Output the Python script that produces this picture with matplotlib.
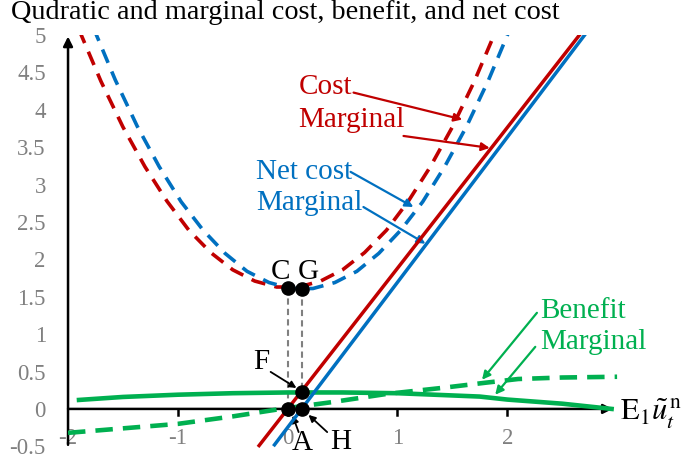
import matplotlib
matplotlib.use("Agg")
import matplotlib.pyplot as plt

plt.rcParams['font.family'] = 'Liberation Serif'
plt.rcParams['mathtext.fontset'] = 'stix'

RED = '#C00000'
BLUE = '#0070C0'
GREEN = '#00B050'
GRAY = '#808080'

# quadratic cost (dashed red)
cost_x = [-1.9, -1.7, -1.5, -1.3, -1.1, -0.9, -0.7, -0.5, -0.3, -0.1,
          0.1, 0.3, 0.5, 0.7, 0.9, 1.1, 1.3, 1.5, 1.7, 1.9]
cost_y = [5.07, 4.38, 3.77, 3.24, 2.78, 2.39, 2.09, 1.86, 1.71, 1.63,
          1.63, 1.71, 1.86, 2.09, 2.39, 2.78, 3.24, 3.77, 4.38, 5.07]
# net cost (dashed blue)
net_x = [-1.77, -1.57, -1.37, -1.17, -0.97, -0.77, -0.57, -0.37, -0.17, 0.03,
         0.23, 0.43, 0.63, 0.83, 1.03, 1.23, 1.43, 1.63, 1.83, 2.03]
net_y = [5.10, 4.40, 3.78, 3.24, 2.77, 2.39, 2.08, 1.84, 1.69, 1.61,
         1.61, 1.69, 1.84, 2.08, 2.39, 2.77, 3.24, 3.78, 4.40, 5.10]
# marginal cost / marginal net cost (solid)
mc_x = [-0.26, 2.70]
mc_y = [-0.49, 5.08]
mnet_x = [-0.12, 2.72]
mnet_y = [-0.48, 5.03]
# benefit (dashed green) and marginal benefit (solid green)
ben_x = [-2.0, -1.5, -1.0, -0.5, -0.06, 0.4, 0.9, 1.4, 1.8, 2.1, 2.5, 3.0]
ben_y = [-0.32, -0.26, -0.20, -0.10, 0.0, 0.09, 0.20, 0.28, 0.35, 0.40, 0.42, 0.43]
mben_x = [-1.9, -1.5, -1.0, -0.5, 0.0, 0.5, 1.0, 1.5, 1.75, 2.0, 2.5, 2.95]
mben_y = [0.12, 0.16, 0.19, 0.21, 0.22, 0.22, 0.21, 0.18, 0.165, 0.125, 0.07, 0.0]

# key points
pt_names = ['C', 'G', 'F', 'A', 'H']
pt_x = [0.0, 0.127, 0.127, 0.0, 0.127]
pt_y = [1.62, 1.61, 0.23, 0.0, 0.0]

xticks = [-2, -1, 0, 1, 2]
yticks = [-0.5, 0, 0.5, 1, 1.5, 2, 2.5, 3, 3.5, 4, 4.5, 5]
ytick_labels = ['-0.5', '0', '0.5', '1', '1.5', '2', '2.5', '3', '3.5', '4', '4.5', '5']

fig = plt.figure(figsize=(6.81, 4.63), dpi=100)
ax = fig.add_axes([0.0999, 0.0199, 0.8385, 0.9045])
ax.set_xlim(-2, 3.2)
ax.set_ylim(-0.6, 5)
for s in ax.spines.values():
    s.set_visible(False)
ax.set_xticks([])
ax.set_yticks(yticks)
ax.set_yticklabels(ytick_labels, color=GRAY, fontsize=16.5)
ax.tick_params(axis='y', length=0, pad=16)

# axes with arrows
ax.annotate('', xy=(2.96, 0), xytext=(-2, 0),
            arrowprops=dict(arrowstyle='-|>', color='black', lw=1.8, mutation_scale=14, shrinkA=0, shrinkB=0))
ax.annotate('', xy=(-2, 4.98), xytext=(-2, -0.48),
            arrowprops=dict(arrowstyle='-|>', color='black', lw=1.8, mutation_scale=14, shrinkA=0, shrinkB=0))
for v in xticks[1:]:
    ax.plot([v, v], [0, -0.08], color='black', lw=1.8, zorder=2)
for v in xticks:
    ax.text(v, -0.39, str(v), color=GRAY, fontsize=16.5, ha='center', va='center', zorder=1)
ax.text(3.03, -0.15, r'$\mathrm{E}_1\tilde{u}_t^{\,\mathrm{n}}$', fontsize=22,
        ha='left', va='baseline')

# curves
ax.plot(cost_x, cost_y, color=RED, lw=2.6, dashes=(4, 2.6), zorder=3)
ax.plot(net_x, net_y, color=BLUE, lw=2.6, dashes=(4, 2.6), zorder=3)
ax.plot(mc_x, mc_y, color=RED, lw=2.5, zorder=4)
ax.plot(mnet_x, mnet_y, color=BLUE, lw=2.5, zorder=4)
ax.plot(mben_x, mben_y, color=GREEN, lw=3.3, zorder=3)
ax.plot(ben_x, ben_y, color=GREEN, lw=3.3, dashes=(3.8, 2.2), zorder=3)

# guide lines C-A and G-H
ax.plot([pt_x[0], pt_x[3]], [pt_y[0], pt_y[3]], color=GRAY, lw=1.5, ls=(0, (3, 2)), zorder=2)
ax.plot([pt_x[1], pt_x[4]], [pt_y[1], pt_y[4]], color=GRAY, lw=1.5, ls=(0, (3, 2)), zorder=2)
ax.plot(pt_x, pt_y, 'o', color='black', ms=9.5, ls='none', zorder=6)

ax.text(-0.064, 1.83, 'C', fontsize=21, ha='center', va='center')
ax.text(0.19, 1.83, 'G', fontsize=21, ha='center', va='center')

arr = dict(arrowstyle='-|>', color='black', lw=1.3, mutation_scale=10, shrinkA=0, shrinkB=0)
ax.text(-0.245, 0.63, 'F', fontsize=21, ha='center', va='center')
ax.annotate('', xy=(0.08, 0.28), xytext=(-0.155, 0.495), arrowprops=arr)
ax.text(0.136, -0.455, 'A', fontsize=21, ha='center', va='center')
ax.annotate('', xy=(0.045, -0.09), xytext=(0.1, -0.31), arrowprops=arr)
ax.text(0.48, -0.44, 'H', fontsize=21, ha='center', va='center')
ax.annotate('', xy=(0.19, -0.08), xytext=(0.36, -0.31), arrowprops=arr)


def label(x, y, txt, color, start, end):
    ax.text(x, y, txt, color=color, fontsize=21, ha='left', va='center')
    ax.annotate('', xy=end, xytext=start,
                arrowprops=dict(arrowstyle='-|>', color=color, lw=1.6, mutation_scale=12,
                                shrinkA=0, shrinkB=0))


label(0.1, 4.30, 'Cost', RED, (0.6, 4.23), (1.59, 3.87))
label(0.1, 3.86, 'Marginal', RED, (1.055, 3.65), (1.84, 3.49))
label(-0.29, 3.17, 'Net cost', BLUE, (0.573, 3.17), (1.145, 2.70))
label(-0.29, 2.76, 'Marginal', BLUE, (0.69, 2.70), (1.255, 2.21))
label(2.3, 1.31, 'Benefit', GREEN, (2.27, 1.285), (1.77, 0.39))
label(2.3, 0.90, 'Marginal', GREEN, (2.255, 0.83), (1.89, 0.19))

fig.text(0.016, 1.0, 'Qudratic and marginal cost, benefit, and net cost',
         fontsize=20.3, ha='left', va='top')

fig.savefig('out.png', dpi=100)
